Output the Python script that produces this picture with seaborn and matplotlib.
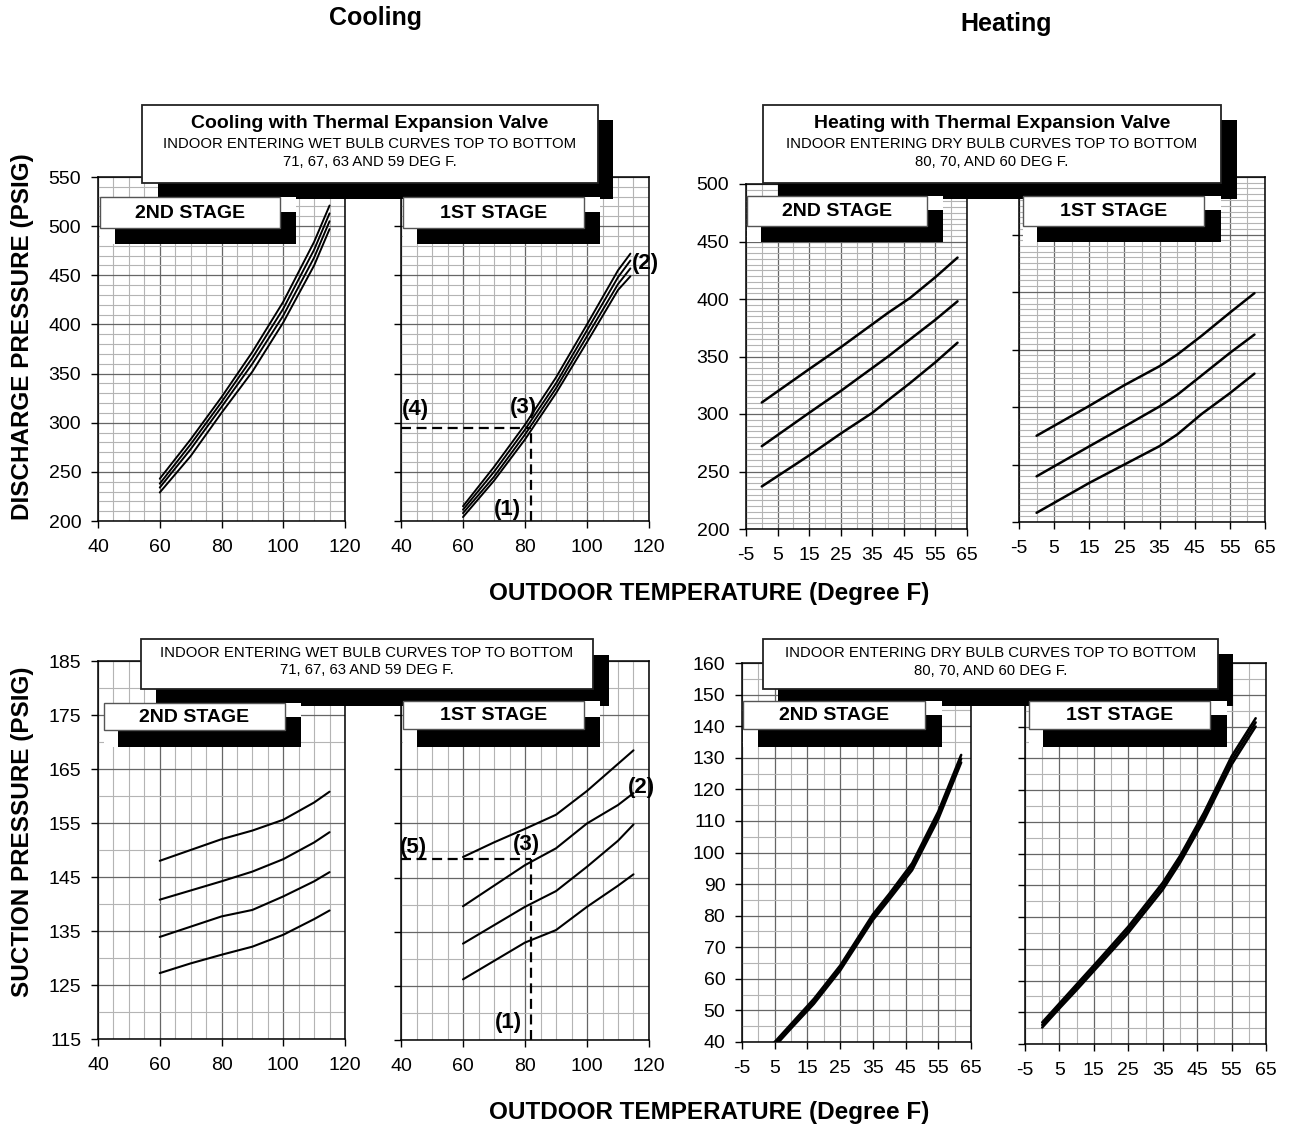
import numpy as np
import pandas as pd
import matplotlib
matplotlib.use("Agg")
import matplotlib.pyplot as plt
from matplotlib.patches import Rectangle
import seaborn as sns

# ---------------- data ----------------
# cooling, outdoor temp (F); curves top to bottom = 71, 67, 63, 59 F indoor wet bulb
cool_dis_2nd_x = [60, 70, 80, 90, 100, 110, 115]
cool_dis_2nd_71 = [243, 283, 326, 372, 423, 484, 521]
cool_dis_2nd_67 = [238, 278, 321, 366, 416, 476, 513]
cool_dis_2nd_63 = [234, 273, 316, 360, 409, 468, 505]
cool_dis_2nd_59 = [229, 266, 310, 352, 402, 460, 497]

cool_dis_1st_x = [60, 70, 80, 90, 100, 110, 114]
cool_dis_1st_71 = [215, 255, 298, 346, 400, 455, 472]
cool_dis_1st_67 = [211.5, 250, 293, 340, 394, 448, 465]
cool_dis_1st_63 = [208, 245, 288, 335, 388, 441, 457]
cool_dis_1st_59 = [204, 241, 283, 330, 382, 435, 449]

cool_suc_x = [60, 70, 80, 90, 100, 110, 115]
cool_suc_2nd_71 = [148.0, 150.0, 152.0, 153.6, 155.6, 158.8, 160.8]
cool_suc_2nd_67 = [140.8, 142.5, 144.2, 146.0, 148.3, 151.4, 153.3]
cool_suc_2nd_63 = [133.9, 135.8, 137.7, 138.9, 141.4, 144.2, 145.9]
cool_suc_2nd_59 = [127.2, 129.0, 130.6, 132.1, 134.3, 137.2, 138.8]

cool_suc_1st_71 = [148.8, 151.5, 154.0, 156.6, 161.0, 166.0, 168.5]
cool_suc_1st_67 = [139.7, 143.5, 147.3, 150.4, 155.0, 158.4, 160.6]
cool_suc_1st_63 = [132.8, 136.2, 139.6, 142.5, 147.0, 151.8, 154.8]
cool_suc_1st_59 = [126.2, 129.6, 133.0, 135.3, 139.6, 143.5, 145.6]

# heating, outdoor temp (F); curves top to bottom = 80, 70, 60 F indoor dry bulb
heat_dis_x = [0, 15, 25, 35, 40, 47, 55, 62]
heat_dis_2nd_80 = [310, 339, 358, 378, 388, 401, 419, 436]
heat_dis_2nd_70 = [272, 301, 320, 340, 350, 365, 382, 398]
heat_dis_2nd_60 = [237, 264, 283, 301, 312, 327, 345, 362]
heat_dis_1st_80 = [275, 301, 319, 335.5, 345.5, 362, 382, 399]
heat_dis_1st_70 = [239.7, 265.8, 283, 300.5, 310.5, 327.5, 347, 363]
heat_dis_1st_60 = [208, 234, 250, 266, 276, 294, 312, 329]

heat_suc_x = [0, 5, 10, 17, 25, 35, 40, 47, 55, 62]
heat_suc_2nd_80 = [34.4, 40.0, 45.7, 53.7, 64.2, 80.4, 86.9, 96.6, 113.0, 130.9]
heat_suc_2nd_70 = [33.7, 39.3, 45.0, 52.9, 63.4, 79.5, 86.0, 95.5, 111.8, 129.7]
heat_suc_2nd_60 = [33.0, 38.6, 44.3, 52.1, 62.6, 78.6, 85.1, 94.4, 110.6, 128.5]
heat_suc_1st_80 = [46.8, 52.8, 58.8, 67.2, 77.0, 90.8, 99.2, 112.9, 130.6, 142.6]
heat_suc_1st_70 = [46.0, 52.0, 57.9, 66.3, 76.0, 89.7, 98.1, 111.7, 129.3, 141.3]
heat_suc_1st_60 = [45.2, 51.2, 57.0, 65.4, 75.0, 88.6, 97.0, 110.5, 128.0, 140.0]

cool_xticks = [40, 60, 80, 100, 120]
heat_xticks = [-5, 5, 15, 25, 35, 45, 55, 65]

# ---------------- figure ----------------
W, H = 1301, 1127
sns.set_style("white")
plt.rcParams['font.family'] = ['Liberation Sans', 'DejaVu Sans']
plt.rcParams['axes.unicode_minus'] = False
for k in ['text.color', 'axes.labelcolor', 'xtick.color', 'ytick.color']:
    plt.rcParams[k] = 'black'

fig = plt.figure(figsize=(W / 100, H / 100), dpi=100)


def px_axes(x0, y0, x1, y1):
    return fig.add_axes([x0 / W, 1 - y1 / H, (x1 - x0) / W, (y1 - y0) / H])


def px_rect(x0, y0, x1, y1, fc, ec='none', lw=0, z=1):
    fig.add_artist(Rectangle((x0 / W, 1 - y1 / H), (x1 - x0) / W, (y1 - y0) / H,
                             transform=fig.transFigure, fc=fc, ec=ec, lw=lw, zorder=z))


def px_text(x, y, s, size, weight='normal', rot=0):
    fig.text(x / W, 1 - y / H, s, ha='center', va='center', fontsize=size,
             fontweight=weight, rotation=rot, zorder=5, color='black')


def draw_curves(ax, x, curves, lw):
    df = pd.DataFrame({
        'temp': np.tile(x, len(curves)),
        'pressure': np.concatenate(curves),
        'curve': np.repeat(np.arange(len(curves)), len(x)),
    })
    sns.lineplot(data=df, x='temp', y='pressure', units='curve', estimator=None,
                 color='black', lw=lw, ax=ax, legend=False, sort=False)
    ax.set_xlabel('')
    ax.set_ylabel('')


def style_axes(ax, xlim, xmaj, xstep, ylim, ymaj, ystep, ylabels=True):
    ax.set_xlim(*xlim)
    ax.set_ylim(*ylim)
    ax.set_xticks(xmaj)
    ax.set_xticks(np.arange(xlim[0], xlim[1] + 0.1, xstep), minor=True)
    ax.set_yticks(ymaj)
    ax.set_yticks(np.arange(ylim[0], ylim[1] + 0.1, ystep), minor=True)
    ax.set_axisbelow(True)
    ax.grid(which='major', color='#666666', lw=0.9)
    ax.grid(which='minor', color='#b4b4b4', lw=0.8)
    ax.tick_params(which='major', bottom=True, left=True, direction='out',
                   length=5, width=1, color='black', labelsize=14,
                   labelleft=ylabels, labelcolor='black')
    ax.tick_params(axis='x', which='major', pad=8)
    ax.tick_params(axis='y', which='major', pad=7)
    ax.tick_params(which='minor', length=0)
    for sp in ax.spines.values():
        sp.set_color('black')
        sp.set_linewidth(1.1)


# cooling discharge
ax = px_axes(98, 177, 345, 521)
draw_curves(ax, cool_dis_2nd_x, [cool_dis_2nd_71, cool_dis_2nd_67, cool_dis_2nd_63, cool_dis_2nd_59], 1.4)
style_axes(ax, (40, 120), cool_xticks, 5, (200, 550), np.arange(200, 551, 50), 10)

ax = px_axes(401, 177, 649, 521)
draw_curves(ax, cool_dis_1st_x, [cool_dis_1st_71, cool_dis_1st_67, cool_dis_1st_63, cool_dis_1st_59], 1.4)
style_axes(ax, (40, 120), cool_xticks, 5, (200, 550), np.arange(200, 551, 50), 10, ylabels=False)
ax.plot([40, 82], [295, 295], color='black', lw=1.6, dashes=(4.5, 2.5))
ax.plot([82, 82], [200, 295], color='black', lw=1.6, dashes=(4.5, 2.5))
for s, xx, yy in [('(4)', 44.8, 313), ('(3)', 79.4, 315), ('(1)', 74.2, 212), ('(2)', 118.7, 462)]:
    ax.text(xx, yy, s, ha='center', va='center', fontsize=16, fontweight='bold')

# heating discharge
ax = px_axes(746, 184, 967, 529)
draw_curves(ax, heat_dis_x, [heat_dis_2nd_80, heat_dis_2nd_70, heat_dis_2nd_60], 1.8)
style_axes(ax, (-5, 65), heat_xticks, 5, (200, 500), np.arange(200, 501, 50), 5)

ax = px_axes(1019, 177, 1265, 522)
draw_curves(ax, heat_dis_x, [heat_dis_1st_80, heat_dis_1st_70, heat_dis_1st_60], 1.8)
style_axes(ax, (-5, 65), heat_xticks, 5, (200, 500), np.arange(200, 501, 50), 5, ylabels=False)

# cooling suction
ax = px_axes(98, 661, 345, 1039)
draw_curves(ax, cool_suc_x, [cool_suc_2nd_71, cool_suc_2nd_67, cool_suc_2nd_63, cool_suc_2nd_59], 1.5)
style_axes(ax, (40, 120), cool_xticks, 5, (115, 185), np.arange(115, 186, 10), 5)

ax = px_axes(401, 661, 649, 1040)
draw_curves(ax, cool_suc_x, [cool_suc_1st_71, cool_suc_1st_67, cool_suc_1st_63, cool_suc_1st_59], 1.5)
style_axes(ax, (40, 120), cool_xticks, 5, (115, 185), np.arange(115, 186, 10), 5, ylabels=False)
ax.plot([40, 82], [148.5, 148.5], color='black', lw=1.6, dashes=(4.5, 2.5))
ax.plot([82, 82], [115, 148.5], color='black', lw=1.6, dashes=(4.5, 2.5))
for s, xx, yy in [('(5)', 43.9, 150.6), ('(3)', 80.6, 151.2), ('(1)', 74.5, 118.2), ('(2)', 117.7, 161.7)]:
    ax.text(xx, yy, s, ha='center', va='center', fontsize=16, fontweight='bold')

# heating suction
ax = px_axes(742, 663, 971, 1042)
draw_curves(ax, heat_suc_x, [heat_suc_2nd_80, heat_suc_2nd_70, heat_suc_2nd_60], 1.8)
style_axes(ax, (-5, 65), heat_xticks, 5, (40, 160), np.arange(40, 161, 10), 5)

ax = px_axes(1025, 663, 1266, 1044)
draw_curves(ax, heat_suc_x, [heat_suc_1st_80, heat_suc_1st_70, heat_suc_1st_60], 1.8)
style_axes(ax, (-5, 65), heat_xticks, 5, (40, 160), np.arange(40, 161, 10), 5, ylabels=False)


# ---------------- boxes ----------------
def title_box(x0, y0, x1, y1, sx0, sy0, sx1, sy1, lines):
    px_rect(sx0, sy0, sx1, sy1, 'black', z=1.0)
    px_rect(x0, y0, x1, y1, 'white', ec='#222222', lw=1.3, z=1.1)
    for s, yy, size, wt in lines:
        px_text((x0 + x1) / 2, yy, s, size, wt)


def stage_box(x0, y0, x1, y1, sx0, sy0, sx1, sy1, label):
    px_rect(x0, y0, sx1, sy1, 'white', z=1.2)
    px_rect(sx0, sy0, sx1, sy1, 'black', z=1.3)
    px_rect(x0, y0, x1, y1, 'white', ec='#555555', lw=1.0, z=1.4)
    px_text((x0 + x1) / 2, (y0 + y1) / 2 + 1, label, 14, 'bold')


title_box(142, 105, 598, 183, 158, 120, 613, 199, [
    ('Cooling with Thermal Expansion Valve', 123, 14, 'bold'),
    ('INDOOR ENTERING WET BULB CURVES TOP TO BOTTOM', 144, 10.7, 'normal'),
    ('71, 67, 63 AND 59 DEG F.', 162, 10.7, 'normal')])
title_box(763, 105, 1221, 183, 778, 120, 1237, 199, [
    ('Heating with Thermal Expansion Valve', 123, 14, 'bold'),
    ('INDOOR ENTERING DRY BULB CURVES TOP TO BOTTOM', 144, 10.7, 'normal'),
    ('80, 70, AND 60 DEG F.', 162, 10.7, 'normal')])
title_box(141, 639, 593, 689, 156, 655, 609, 706, [
    ('INDOOR ENTERING WET BULB CURVES TOP TO BOTTOM', 653, 10.7, 'normal'),
    ('71, 67, 63 AND 59 DEG F.', 670, 10.7, 'normal')])
title_box(763, 639, 1218, 689, 778, 654, 1233, 706, [
    ('INDOOR ENTERING DRY BULB CURVES TOP TO BOTTOM', 653, 10.7, 'normal'),
    ('80, 70, AND 60 DEG F.', 671, 10.7, 'normal')])

stage_box(100, 197, 280, 228, 115, 212, 296, 244, '2ND STAGE')
stage_box(403, 197, 584, 228, 417, 212, 600, 244, '1ST STAGE')
stage_box(747, 196, 927, 226, 761, 210, 943, 242, '2ND STAGE')
stage_box(1023, 196, 1204, 226, 1037, 210, 1221, 242, '1ST STAGE')
stage_box(104, 703, 285, 730, 118, 717, 301, 747, '2ND STAGE')
stage_box(403, 701, 584, 729, 417, 717, 600, 747, '1ST STAGE')
stage_box(743, 701, 925, 729, 758, 715, 942, 747, '2ND STAGE')
stage_box(1029, 701, 1210, 729, 1043, 715, 1227, 747, '1ST STAGE')

# ---------------- headings and axis titles ----------------
px_text(376, 18, 'Cooling', 18, 'bold')
px_text(1006, 24, 'Heating', 18, 'bold')
px_text(709, 594, 'OUTDOOR TEMPERATURE (Degree F)', 17.5, 'bold')
px_text(709, 1112, 'OUTDOOR TEMPERATURE (Degree F)', 17.5, 'bold')
px_text(23, 337, 'DISCHARGE PRESSURE (PSIG)', 17.5, 'bold', rot=90)
px_text(23, 832, 'SUCTION PRESSURE (PSIG)', 17.5, 'bold', rot=90)

fig.savefig('out.png', dpi=100)
